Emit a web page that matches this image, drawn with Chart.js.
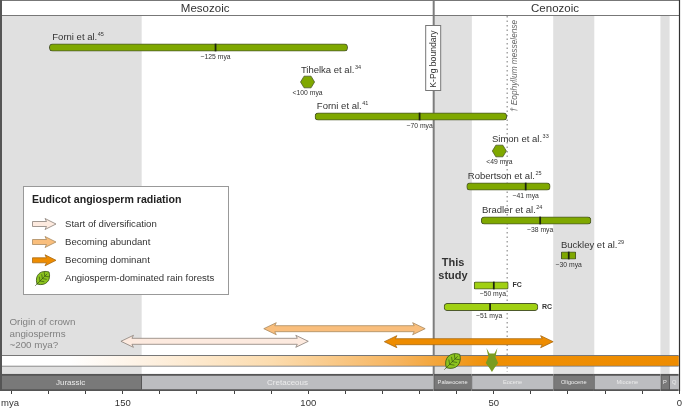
<!DOCTYPE html>
<html>
<head>
<meta charset="utf-8">
<style>html,body{margin:0;padding:0;background:#fff}canvas{display:block}</style>
<script src="https://cdn.jsdelivr.net/npm/chart.js@4"></script>
</head>
<body>
<canvas id="c" width="682" height="409"></canvas>
<script>
// age in mya on x, y is a lane position (0 = top of the figure)
const studyNames = ['Forni et al.', 'Forni et al.', 'Robertson et al.', 'Bradler et al.', 'Buckley et al.'];
const studyRefs = ['45', '41', '25', '24', '29'];
const studyFrom = [169.8, 98.2, 57.3, 53.4, 31.8];
const studyTo = [89.4, 46.5, 34.8, 23.8, 27.9];
const studyMid = [125, 70, 41.4, 37.5, 29.8];
const studyMidLabel = ['~125 mya', '~70 mya', '~41 mya', '~38 mya', '~30 mya'];
const studyLane = [47.5, 116.5, 186.5, 220.5, 255.5];
const studyNameAt = [169, 97.7, 57, 53.2, 31.9];

const thisStudyNames = ['FC', 'RC'];
const thisStudyFrom = [55.3, 63.4];
const thisStudyTo = [46.1, 38.1];
const thisStudyMid = [50, 51];
const thisStudyMidLabel = ['~50 mya', '~51 mya'];
const thisStudyLane = [285.5, 307];

const fossilNames = ['Tihelka et al.', 'Simon et al.'];
const fossilRefs = ['34', '33'];
const fossilAge = [100.2, 48.5];
const fossilLabel = ['<100 mya', '<49 mya'];
const fossilLane = [82, 151];
const fossilNameAt = [102, 50.5];

const greyBands = [[183.1, 145], [66.2, 56], [33.9, 23], [5, 2.7]];

const periodNames = ['Jurassic', 'Cretaceous', 'Palaeocene', 'Eocene', 'Oligocene', 'Miocene', 'P', 'Q'];
const periodFrom = [183.1, 145, 66.2, 56, 33.9, 23, 5, 2.7];
const periodTo = [145, 66.2, 56, 33.9, 23, 5, 2.7, 0];

const eraNames = ['Mesozoic', 'Cenozoic'];
const eraMid = [127.8, 33.5];
const kpgAge = 66.2;
const fossilLineAge = 46.4;

const arrowNames = ['Start of diversification', 'Becoming abundant', 'Becoming dominant'];
const arrowFrom = [150.5, 112, 79.5];
const arrowTo = [100, 68.5, 34];
const arrowLane = [341.3, 328.7, 341.7];
const arrowColors = ['#fdeadf', '#f9be7c', '#ee8c00'];
const arrowEdges = ['#8a8078', '#a98a60', '#a96a10'];

const GREEN = '#7fa800', LIME = '#a0d012', EDGE = '#4d5a2a', TXT = '#333333';
const F = '"Liberation Sans", Arial, sans-serif';

function text(ctx, s, x, y, font, color, align) {
  ctx.font = font + ' ' + F;
  ctx.fillStyle = color || TXT;
  ctx.textAlign = align || 'center';
  ctx.textBaseline = 'middle';
  ctx.fillText(s, x, y);
}

// name plus superscript reference, left aligned
function citeLabel(ctx, name, ref, x, y) {
  text(ctx, name, x, y, '9.5px', TXT, 'left');
  const w = ctx.measureText(name).width;
  text(ctx, ref, x + w + 0.5, y - 3, '5.5px', TXT, 'left');
}

function arrowPath(ctx, x0, x1, y, shaft, head, len, both) {
  ctx.beginPath();
  ctx.moveTo(x1, y);
  ctx.lineTo(x1 - len, y - head / 2);
  ctx.lineTo(x1 - len + 1.5, y - shaft / 2);
  if (both) {
    ctx.lineTo(x0 + len - 1.5, y - shaft / 2);
    ctx.lineTo(x0 + len, y - head / 2);
    ctx.lineTo(x0, y);
    ctx.lineTo(x0 + len, y + head / 2);
    ctx.lineTo(x0 + len - 1.5, y + shaft / 2);
  } else {
    ctx.lineTo(x0, y - shaft / 2);
    ctx.lineTo(x0, y + shaft / 2);
  }
  ctx.lineTo(x1 - len + 1.5, y + shaft / 2);
  ctx.lineTo(x1 - len, y + head / 2);
  ctx.closePath();
}

function drawLeaf(ctx, cx, cy, s) {
  ctx.save();
  ctx.translate(cx, cy);
  ctx.rotate(-Math.PI / 4);
  ctx.beginPath();
  ctx.moveTo(-s, 0);
  ctx.bezierCurveTo(-s * 0.45, -s * 1.0, s * 0.55, -s * 0.85, s, 0);
  ctx.bezierCurveTo(s * 0.55, s * 0.85, -s * 0.45, s * 1.0, -s, 0);
  ctx.closePath();
  ctx.fillStyle = '#8cc41e';
  ctx.strokeStyle = '#3c5a14';
  ctx.lineWidth = 0.8;
  ctx.fill();
  ctx.stroke();
  ctx.beginPath();
  ctx.moveTo(-s * 1.3, 0);
  ctx.lineTo(s * 0.7, 0);
  [-0.5, -0.1, 0.3].forEach(t => {
    ctx.moveTo(s * t, 0);
    ctx.lineTo(s * (t + 0.3), -s * 0.42);
    ctx.moveTo(s * t, 0);
    ctx.lineTo(s * (t + 0.3), s * 0.42);
  });
  ctx.strokeStyle = '#2f4a10';
  ctx.lineWidth = 0.6;
  ctx.stroke();
  ctx.restore();
}

function drawInsect(ctx, cx, cy) {
  ctx.save();
  ctx.translate(cx, cy);
  ctx.fillStyle = '#7a9c20';
  ctx.beginPath();
  ctx.moveTo(-5.5, -12);
  ctx.lineTo(-2.5, -6.5);
  ctx.lineTo(2.5, -6.5);
  ctx.lineTo(5.5, -12);
  ctx.lineTo(3.5, -3);
  ctx.lineTo(6.2, 3);
  ctx.lineTo(2.5, 8);
  ctx.lineTo(0, 12);
  ctx.lineTo(-2.5, 8);
  ctx.lineTo(-6.2, 3);
  ctx.lineTo(-3.5, -3);
  ctx.closePath();
  ctx.fill();
  ctx.restore();
}

function hexagon(ctx, x, y) {
  ctx.beginPath();
  ctx.moveTo(x - 7, y);
  ctx.lineTo(x - 3.5, y - 5.8);
  ctx.lineTo(x + 3.5, y - 5.8);
  ctx.lineTo(x + 7, y);
  ctx.lineTo(x + 3.5, y + 5.8);
  ctx.lineTo(x - 3.5, y + 5.8);
  ctx.closePath();
  ctx.fillStyle = GREEN;
  ctx.strokeStyle = EDGE;
  ctx.lineWidth = 0.8;
  ctx.fill();
  ctx.stroke();
}

const overlays = {
  id: 'overlays',
  // reference lines sit on the grey bands but under every bar
  afterDatasetDraw(chart, args) {
    if (chart.data.datasets[args.index].label !== 'bands') return;
    const { ctx, scales: { x, y } } = chart;
    ctx.save();
    ctx.strokeStyle = '#7d7d7d';
    ctx.lineWidth = 2;
    ctx.beginPath();
    ctx.moveTo(x.getPixelForValue(kpgAge), y.getPixelForValue(0));
    ctx.lineTo(x.getPixelForValue(kpgAge), y.getPixelForValue(374));
    ctx.stroke();
    ctx.strokeStyle = '#777';
    ctx.lineWidth = 1;
    ctx.setLineDash([1.5, 3]);
    ctx.beginPath();
    ctx.moveTo(x.getPixelForValue(fossilLineAge), y.getPixelForValue(16));
    ctx.lineTo(x.getPixelForValue(fossilLineAge), y.getPixelForValue(372));
    ctx.stroke();
    ctx.restore();
  },
  afterDatasetsDraw(chart) {
    const { ctx, scales: { x, y } } = chart;
    const X = v => x.getPixelForValue(v);
    const Y = v => y.getPixelForValue(v);
    ctx.save();

    // frame and era header
    ctx.strokeStyle = '#777';
    ctx.lineWidth = 1;
    ctx.beginPath();
    ctx.moveTo(0, 0.5); ctx.lineTo(680, 0.5);
    ctx.moveTo(0, 15.5); ctx.lineTo(680, 15.5);
    ctx.stroke();
    ctx.strokeStyle = '#555';
    ctx.lineWidth = 2;
    ctx.beginPath();
    ctx.moveTo(1, 0); ctx.lineTo(1, 391);
    ctx.stroke();
    ctx.strokeStyle = '#333';
    ctx.lineWidth = 1.2;
    ctx.beginPath();
    ctx.moveTo(679.5, 0); ctx.lineTo(679.5, 391);
    ctx.stroke();
    eraNames.forEach((n, i) => text(ctx, n, X(eraMid[i]), 8.5, '11.5px'));

    // period names in the bottom strip
    periodNames.forEach((n, i) => {
      const mid = (X(periodFrom[i]) + X(periodTo[i])) / 2;
      const size = i < 2 ? '8px' : '5.7px';
      text(ctx, n, mid, Y(382.5), size, '#ececec');
    });

    // K-Pg tag
    ctx.fillStyle = '#fff';
    ctx.strokeStyle = '#777';
    ctx.lineWidth = 1;
    const kx = X(kpgAge) - 0.5;
    ctx.fillRect(kx - 7.5, Y(25.5), 15, 65);
    ctx.strokeRect(kx - 7.5, Y(25.5), 15, 65);
    ctx.save();
    ctx.translate(kx, Y(59));
    ctx.rotate(-Math.PI / 2);
    text(ctx, 'K-Pg boundary', 0, 0.5, '8.6px');
    ctx.restore();

    ctx.save();
    ctx.translate(X(fossilLineAge) + 8, Y(66));
    ctx.rotate(-Math.PI / 2);
    ctx.font = 'italic 8.3px ' + F;
    ctx.fillStyle = '#666';
    ctx.textAlign = 'center';
    ctx.textBaseline = 'middle';
    ctx.fillText('† Eophyllum messelense', 0, 0);
    ctx.restore();

    // study labels
    studyNames.forEach((n, i) => {
      citeLabel(ctx, n, studyRefs[i], X(studyNameAt[i]), Y(studyLane[i] - 10));
      text(ctx, studyMidLabel[i], X(studyMid[i]), Y(studyLane[i] + 10), '6.8px');
    });
    thisStudyNames.forEach((n, i) => {
      text(ctx, n, X(thisStudyTo[i]) + 9, Y(thisStudyLane[i]), 'bold 7px');
      text(ctx, thisStudyMidLabel[i], X(thisStudyMid[i]) - 1, Y(thisStudyLane[i] + 9), '6.8px');
    });
    text(ctx, 'This', 453, Y(263), 'bold 11px');
    text(ctx, 'study', 453, Y(276), 'bold 11px');

    // fossils
    fossilNames.forEach((n, i) => {
      hexagon(ctx, X(fossilAge[i]), Y(fossilLane[i]));
      citeLabel(ctx, n, fossilRefs[i], X(fossilNameAt[i]), Y(fossilLane[i] - 12));
      text(ctx, fossilLabel[i], X(fossilAge[i]), Y(fossilLane[i] + 11.5), '6.8px');
    });

    // radiation arrows
    ctx.lineWidth = 0.8;
    arrowNames.forEach((n, i) => {
      arrowPath(ctx, X(arrowFrom[i]), X(arrowTo[i]), Y(arrowLane[i]), 6, 12, 12.5, true);
      ctx.fillStyle = arrowColors[i];
      ctx.strokeStyle = arrowEdges[i];
      ctx.fill();
      ctx.stroke();
    });

    drawLeaf(ctx, X(61), Y(361), 9.5);
    drawInsect(ctx, X(50.5), Y(360));

    text(ctx, 'Origin of crown', 9.5, Y(322), '9.8px', '#808080', 'left');
    text(ctx, 'angiosperms', 9.5, Y(334), '9.8px', '#808080', 'left');
    text(ctx, '~200 mya?', 9.5, Y(345.5), '9.8px', '#808080', 'left');

    // legend box
    ctx.fillStyle = '#fff';
    ctx.strokeStyle = '#999';
    ctx.lineWidth = 1;
    ctx.fillRect(23.5, 186.5, 205, 108);
    ctx.strokeRect(23.5, 186.5, 205, 108);
    text(ctx, 'Eudicot angiosperm radiation', 32, 200.5, 'bold 10.6px', '#222', 'left');
    const rows = [224, 242, 260.3];
    arrowNames.forEach((n, i) => {
      arrowPath(ctx, 32.5, 56, rows[i], 5, 11, 11, false);
      ctx.fillStyle = arrowColors[i];
      ctx.strokeStyle = arrowEdges[i];
      ctx.lineWidth = 0.8;
      ctx.fill();
      ctx.stroke();
      text(ctx, n, 65, rows[i], '9.6px', TXT, 'left');
    });
    drawLeaf(ctx, 43, 278, 8.5);
    text(ctx, 'Angiosperm-dominated rain forests', 65, 278, '9.6px', TXT, 'left');

    text(ctx, 'mya', 1, 403, '9.5px', TXT, 'left');
    ctx.restore();
  }
};

new Chart(document.getElementById('c'), {
  type: 'bar',
  plugins: [overlays],
  data: {
    datasets: [
      {
        label: 'bands',
        order: 20,
        barThickness: 358,
        backgroundColor: '#e0e0e0',
        data: greyBands.map(b => ({ x: b, y: 195 }))
      },
      {
        label: 'radiation',
        order: 10,
        barThickness: 11,
        borderWidth: { top: 1, bottom: 1, left: 0, right: 0 },
        borderColor: '#777',
        backgroundColor(c) {
          const a = c.chart.chartArea;
          if (!a) return '#fff';
          const g = c.chart.ctx.createLinearGradient(a.left, 0, a.right, 0);
          g.addColorStop(0.1, '#ffffff');
          g.addColorStop(0.2, '#fef3e6');
          g.addColorStop(0.4, '#fcdcae');
          g.addColorStop(0.585, '#f6b45e');
          g.addColorStop(0.72, '#ef8f04');
          g.addColorStop(1, '#ee8c00');
          return g;
        },
        data: [{ x: [183.1, 0], y: 360.8 }]
      },
      {
        label: 'periods',
        order: 9,
        barThickness: 17,
        borderWidth: { top: 2, bottom: 2, left: 1, right: 1 },
        borderColor: '#555',
        backgroundColor: periodNames.map((n, i) => (i % 2 === 0 ? '#797979' : '#bcbdc0')),
        data: periodNames.map((n, i) => ({ x: [periodFrom[i], periodTo[i]], y: 382.5 }))
      },
      {
        label: 'studies',
        order: 5,
        barThickness: 7.5,
        borderWidth: 1,
        borderSkipped: false,
        borderRadius: studyNames.map((n, i) => (i === 4 ? 1 : 3.5)),
        borderColor: EDGE,
        backgroundColor: GREEN,
        data: studyNames.map((n, i) => ({ x: [studyFrom[i], studyTo[i]], y: studyLane[i] }))
      },
      {
        label: 'this study',
        order: 5,
        barThickness: 7.5,
        borderWidth: 1,
        borderSkipped: false,
        borderRadius: [1.5, 3.5],
        borderColor: EDGE,
        backgroundColor: LIME,
        data: thisStudyNames.map((n, i) => ({ x: [thisStudyFrom[i], thisStudyTo[i]], y: thisStudyLane[i] }))
      },
      {
        label: 'mean ages',
        order: 1,
        barThickness: 7,
        backgroundColor: '#1c2410',
        data: studyMid.concat(thisStudyMid).map((m, i) => ({
          x: [m + 0.15, m - 0.15],
          y: studyLane.concat(thisStudyLane)[i]
        }))
      }
    ]
  },
  options: {
    indexAxis: 'y',
    responsive: false,
    animation: false,
    layout: { padding: 0 },
    datasets: { bar: { grouped: false } },
    plugins: { legend: { display: false }, tooltip: { enabled: false } },
    scales: {
      x: {
        type: 'linear',
        reverse: true,
        min: -0.73,
        max: 183.1,
        offset: false,
        border: { display: false },
        grid: { drawOnChartArea: false, drawTicks: true, tickLength: 3, tickColor: '#444' },
        ticks: {
          stepSize: 10,
          includeBounds: false,
          autoSkip: false,
          maxRotation: 0,
          padding: 4,
          color: TXT,
          font: { size: 9.5, family: F },
          callback: v => (v % 50 === 0 ? String(v) : '')
        },
        afterFit(s) {
          s.height = 18;
          s.paddingLeft = 0;
          s.paddingRight = 0;
        }
      },
      y: {
        type: 'linear',
        display: false,
        reverse: true,
        offset: false,
        min: 0,
        max: 391
      }
    }
  }
});
</script>
</body>
</html>
